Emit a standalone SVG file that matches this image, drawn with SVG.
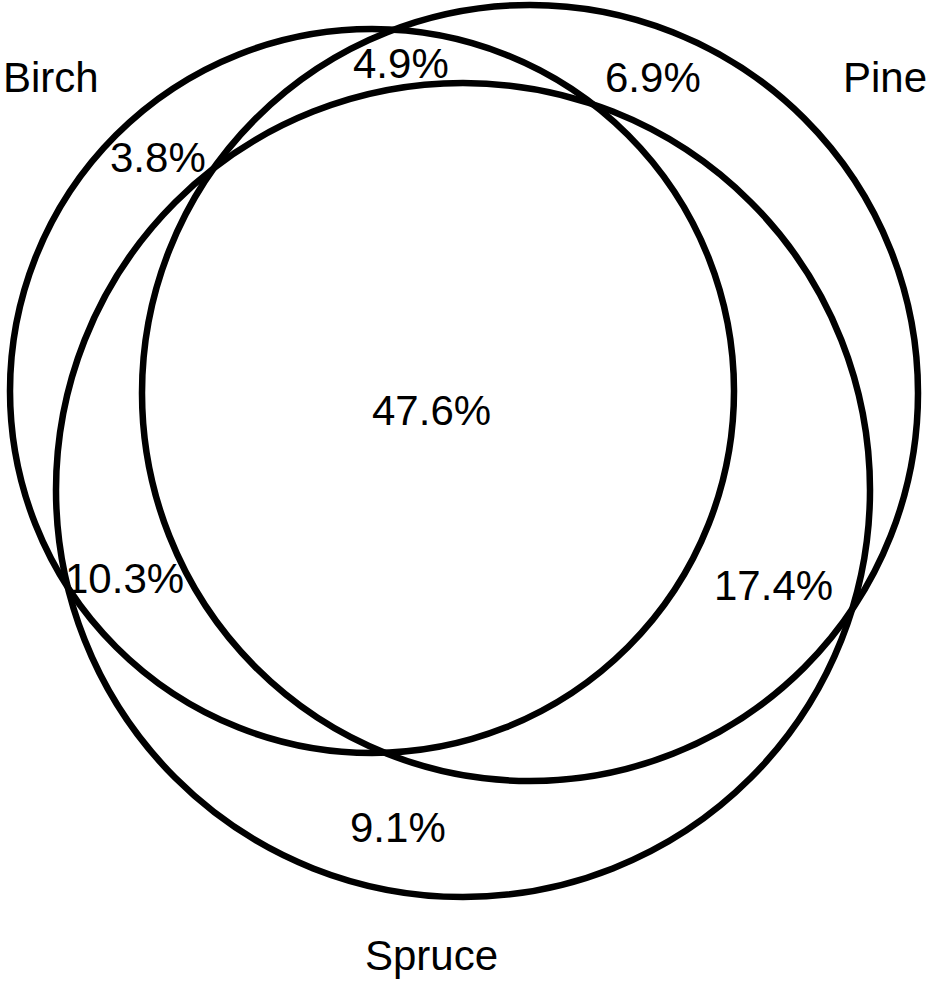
<svg xmlns="http://www.w3.org/2000/svg" width="933" height="983" viewBox="0 0 933 983">
<style>
.c{fill:none;stroke:#000;stroke-width:6.5}
text{font-family:"Liberation Sans",Arial,sans-serif;font-size:42px;fill:#000}
</style>
<rect width="933" height="983" fill="#fff"/>
<g id="birch"><circle class="c" cx="372" cy="391" r="362"/></g>
<g id="pine"><circle class="c" cx="530" cy="393" r="388"/></g>
<g id="spruce"><circle class="c" cx="463" cy="490" r="407"/></g>
<g id="labels">
<text x="3" y="92">Birch</text>
<text x="843" y="92">Pine</text>
<text x="365" y="970">Spruce</text>
<text x="353" y="78">4.9%</text>
<text x="605" y="92">6.9%</text>
<text x="110" y="172">3.8%</text>
<text x="372" y="425">47.6%</text>
<text x="65" y="593">10.3%</text>
<text x="714" y="600">17.4%</text>
<text x="350" y="842">9.1%</text>
</g>
</svg>
